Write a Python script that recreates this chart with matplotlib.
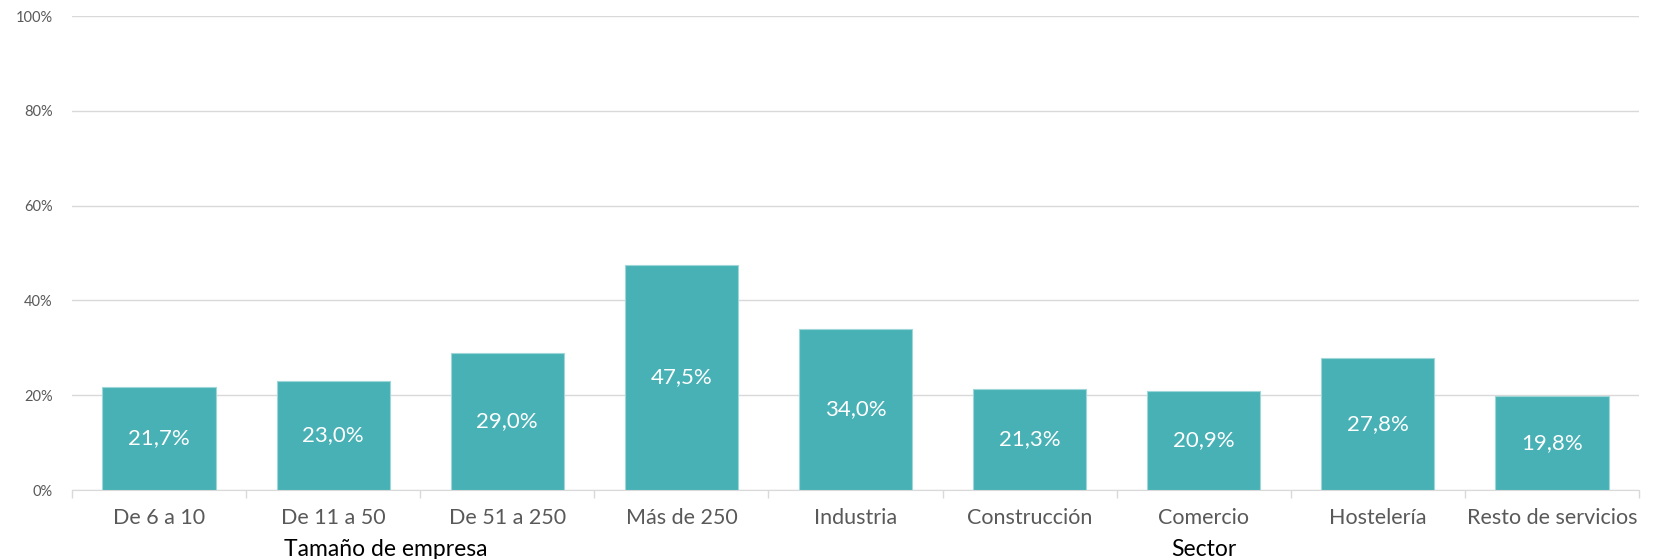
import matplotlib
matplotlib.use("Agg")
import matplotlib.pyplot as plt
from matplotlib.ticker import FixedLocator, NullFormatter

categories = ["De 6 a 10", "De 11 a 50", "De 51 a 250", "Más de 250",
              "Industria", "Construcción", "Comercio", "Hostelería", "Resto de servicios"]
values = [21.7, 23.0, 29.0, 47.5, 34.0, 21.3, 20.9, 27.8, 19.8]
value_labels = ["21,7%", "23,0%", "29,0%", "47,5%", "34,0%", "21,3%", "20,9%", "27,8%", "19,8%"]
groups = ["Tamaño de empresa", "Sector"]
group_pos = [1.3, 6.0]
yticks = [0, 20, 40, 60, 80, 100]
ytick_labels = ["0%", "20%", "40%", "60%", "80%", "100%"]

plt.rcParams['font.family'] = ['Lato', 'DejaVu Sans']

fig = plt.figure(figsize=(16.63, 5.59), dpi=100)
ax = fig.add_axes([72/1663, 1-490/559, (1639-72)/1663, (490-16)/559])

x = list(range(len(categories)))
bars = ax.bar(x, values, width=0.65, color="#48B1B5", edgecolor="#9fd6d8", linewidth=0.8, zorder=3)

for xi, v, lab in zip(x, values, value_labels):
    ax.text(xi, v/2, lab, ha="center", va="center", color="white", fontsize=16, zorder=4)

ax.set_xlim(-0.5, len(categories)-0.5)
ax.set_ylim(0, 100)
ax.set_yticks(yticks)
ax.set_yticklabels(ytick_labels, color="#595959", fontsize=10.5)
ax.tick_params(axis="y", length=0, pad=14)
ax.yaxis.grid(True, color="#d9d9d9", linewidth=1, zorder=0)
ax.set_axisbelow(True)

ax.set_xticks(x)
ax.set_xticklabels(categories, color="#595959", fontsize=15.5)
ax.tick_params(axis="x", which="major", length=0, pad=13)
ax.xaxis.set_minor_locator(FixedLocator([i - 0.5 for i in range(len(categories)+1)]))
ax.xaxis.set_minor_formatter(NullFormatter())
ax.tick_params(axis="x", which="minor", length=6, color="#d9d9d9", width=1)

for s in ["top", "right", "left"]:
    ax.spines[s].set_visible(False)
ax.spines["bottom"].set_color("#d9d9d9")

for g, gp in zip(groups, group_pos):
    ax.text(gp, -0.125, g, transform=ax.get_xaxis_transform(), ha="center", va="center",
            fontsize=16.5, color="black")

fig.savefig("out.png", dpi=100)
